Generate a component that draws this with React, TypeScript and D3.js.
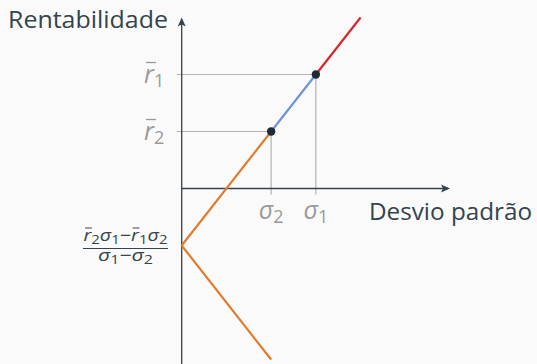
import React, { useLayoutEffect, useRef, useState } from "react";
import * as d3 from "d3";

// Two risky assets: standard deviation (sigma) and expected return (r-bar)
const assetNames = ["1", "2"];
const assetSigma = [3, 2];
const assetReturn = [2, 1];

// Frontier of the two-asset combinations (perfect positive correlation)
const shortBranchSigma = [0, 2]; // orange: short in asset 1
const shortBranchReturn = [-1, 1];
const mixBranchSigma = [2, 3]; // blue: long in both
const mixBranchReturn = [1, 2];
const longBranchSigma = [3, 4]; // red: short in asset 2
const longBranchReturn = [2, 3];
const lowerBranchSigma = [0, 2]; // orange: reflected branch below the intercept
const lowerBranchReturn = [-1, -3];

const xDomain = [0, 6];
const yDomain = [-3, 3];

const W = 537;
const H = 364;
const BG = "#fafafa";
const INK = "#34444c";
const GRAY = "#9a9a9a";
const GUIDE = "#b3b3b3";
const ORANGE = "#e27c2c";
const BLUE = "#7094d8";
const RED = "#d8262d";
const FONT = "'Open Sans', 'Noto Sans', sans-serif";

// character indices of the barred r's in the numerator "r2σ1−r1σ2"
const BARRED = [0, 5];

export default function App() {
  const x = d3.scaleLinear().domain(xDomain).range([181.7, 450]);
  const y = d3.scaleLinear().domain(yDomain).range([359.5, 17.5]);
  const line = d3
    .line<[number, number]>()
    .x((d) => x(d[0]))
    .y((d) => y(d[1]));
  const seg = (s: number[], r: number[]) =>
    line(s.map((v, i) => [v, r[i]] as [number, number])) as string;

  const x0 = x(0);
  const y0 = y(0);
  const xEnd = x(xDomain[1]);
  const yTop = y(yDomain[1]);
  const interceptY = y(shortBranchReturn[0]);

  const numRef = useRef<SVGTextElement>(null);
  const [bars, setBars] = useState<{ x1: number; x2: number }[]>([]);
  useLayoutEffect(() => {
    const el = numRef.current;
    if (!el) return;
    const out = BARRED.map((i) => {
      const b = el.getExtentOfChar(i);
      return { x1: b.x + 1.5, x2: b.x + b.width + 0.5 };
    });
    setBars(out);
  }, []);

  const numBase = interceptY - 5;

  return (
    <svg
      width={W}
      height={H}
      style={{ position: "absolute", left: 0, top: 0, display: "block" }}
      fontFamily={FONT}
    >
      <rect width={W} height={H} fill={BG} />

      {/* guide lines to the asset points */}
      {assetNames.map((n, i) => (
        <g key={"g" + n} stroke={GUIDE} strokeWidth={1.2} fill="none">
          <line x1={x0 - 5} x2={x(assetSigma[i])} y1={y(assetReturn[i])} y2={y(assetReturn[i])} />
          <line x1={x(assetSigma[i])} x2={x(assetSigma[i])} y1={y(assetReturn[i])} y2={y0 + 6} />
        </g>
      ))}

      {/* axes */}
      <g stroke={INK} strokeWidth={1.3}>
        <line x1={x0} x2={x0} y1={H + 2} y2={yTop + 2} />
        <line x1={x0} x2={xEnd - 2} y1={y0} y2={y0} />
      </g>
      <path
        d={`M${xEnd},${y0} L${xEnd - 9},${y0 - 4} L${xEnd - 7},${y0} L${xEnd - 9},${y0 + 4} Z`}
        fill={INK}
      />
      <path
        d={`M${x0},${yTop} L${x0 - 4},${yTop + 9} L${x0},${yTop + 7} L${x0 + 4},${yTop + 9} Z`}
        fill={INK}
      />

      {/* frontier branches */}
      <g fill="none" strokeWidth={2.2} strokeLinecap="butt">
        <path d={seg(shortBranchSigma, shortBranchReturn)} stroke={ORANGE} />
        <path d={seg(lowerBranchSigma, lowerBranchReturn)} stroke={ORANGE} />
        <path d={seg(mixBranchSigma, mixBranchReturn)} stroke={BLUE} />
        <path d={seg(longBranchSigma, longBranchReturn)} stroke={RED} />
      </g>

      {/* asset points */}
      {assetNames.map((n, i) => (
        <circle key={"p" + n} cx={x(assetSigma[i])} cy={y(assetReturn[i])} r={4.2} fill="#1d2b33" />
      ))}

      {/* r-bar labels on the vertical axis */}
      {assetNames.map((n, i) => {
        const yy = y(assetReturn[i]);
        return (
          <g key={"r" + n} fill={GRAY}>
            <text x={144} y={yy + 8} fontSize={25} fontStyle="italic">
              r
              <tspan fontSize={18} fontStyle="normal" dy={4.5}>
                {n}
              </tspan>
            </text>
            <line x1={146} x2={156} y1={yy - 12} y2={yy - 12} stroke={GRAY} strokeWidth={1.3} />
          </g>
        );
      })}

      {/* sigma labels under the horizontal axis */}
      {assetNames.map((n, i) => (
        <text
          key={"s" + n}
          x={x(assetSigma[i])}
          y={218.7}
          fontSize={25}
          fill={GRAY}
          textAnchor="middle"
        >
          <tspan fontStyle="italic">σ</tspan>
          <tspan fontSize={18} dy={4.5}>
            {n}
          </tspan>
        </text>
      ))}

      {/* intercept fraction */}
      <g fill={INK}>
        <text
          ref={numRef}
          x={125.5}
          y={numBase}
          fontSize={16.5}
          textAnchor="middle"
          textLength={84}
          lengthAdjust="spacingAndGlyphs"
        >
          <tspan fontStyle="italic">r</tspan>
          <tspan fontSize={12.5} dy={3}>2</tspan>
          <tspan fontStyle="italic" dy={-3}>σ</tspan>
          <tspan fontSize={12.5} dy={3}>1</tspan>
          <tspan dy={-3}>−</tspan>
          <tspan fontStyle="italic">r</tspan>
          <tspan fontSize={12.5} dy={3}>1</tspan>
          <tspan fontStyle="italic" dy={-3}>σ</tspan>
          <tspan fontSize={12.5} dy={3}>2</tspan>
        </text>
        {bars.map((b, i) => (
          <line key={"ob" + i} x1={b.x1} x2={b.x2} y1={numBase - 12.5} y2={numBase - 12.5} stroke={INK} strokeWidth={1} />
        ))}
        <line x1={83} x2={168} y1={interceptY + 3} y2={interceptY + 3} stroke={INK} strokeWidth={1} />
        <text
          x={125.5}
          y={interceptY + 15.5}
          fontSize={16.5}
          textAnchor="middle"
          textLength={55}
          lengthAdjust="spacingAndGlyphs"
        >
          <tspan fontStyle="italic">σ</tspan>
          <tspan fontSize={12.5} dy={3}>1</tspan>
          <tspan dy={-3}>−</tspan>
          <tspan fontStyle="italic">σ</tspan>
          <tspan fontSize={12.5} dy={3}>2</tspan>
        </text>
      </g>

      {/* axis titles */}
      <text x={8} y={28.3} fontSize={24} fill={INK} textLength={160} lengthAdjust="spacingAndGlyphs">
        Rentabilidade
      </text>
      <text x={369} y={220} fontSize={24} fill={INK} textLength={163} lengthAdjust="spacingAndGlyphs">
        Desvio padrão
      </text>
    </svg>
  );
}
